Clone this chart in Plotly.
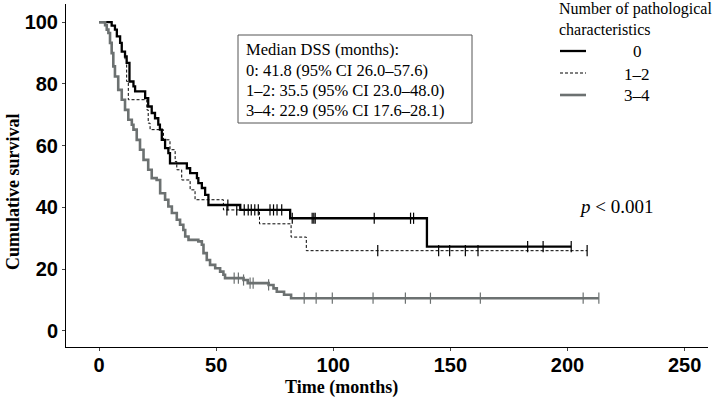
import plotly.graph_objects as go

# ---------------- data ----------------
group_labels = ["0", "1–2", "3–4"]

t_g0 = [0, 5.4, 6.8, 7.6, 9.0, 9.7, 11.1, 11.8, 13.0, 14.7, 15.4, 19.7, 21.0, 22.5, 23.9, 25.3, 26.0,
        26.8, 28.2, 29.6, 30.3, 37.5, 38.9, 41.8, 42.4, 43.9, 45.3, 46.7, 60.3, 81.6, 140.0, 201.6]
s_g0 = [100, 98.9, 97.6, 95.4, 93.3, 90.5, 88.9, 86.8, 80.8, 79.2, 77.6, 75.4, 72.7, 70.6, 68.9, 66.8, 65.2,
        61.9, 59.2, 57.6, 54.3, 52.7, 51.1, 49.5, 47.9, 46.3, 44.1, 40.8, 39.2, 36.5, 27.3, 27.3]
cens_g0 = [55.0, 63.7, 65.0, 66.5, 68.0, 73.0, 74.5, 76.0, 78.0, 82.5, 91.0, 91.7, 92.3, 117.5,
           133.0, 134.3, 183.0, 189.6, 201.6]

t_g1 = [0, 5.4, 6.8, 7.6, 9.0, 9.7, 11.1, 11.8, 12.5, 20.4, 21.0, 21.8, 27.5, 30.3, 32.5, 33.2,
        35.3, 38.9, 41.0, 53.1, 68.5, 82.0, 88.5, 208.4]
s_g1 = [100, 98.9, 97.6, 95.4, 93.3, 90.5, 87.8, 80.8, 74.9, 71.6, 67.3, 65.2, 61.9, 58.7, 54.9, 52.2,
        48.9, 45.7, 42.5, 39.2, 34.7, 30.4, 26.0, 26.0]
cens_g1 = [54.6, 58.8, 62.0, 119.0, 145.0, 149.7, 156.4, 161.8, 208.4]

t_g2 = [0, 2.6, 3.3, 4.0, 4.7, 5.4, 6.1, 6.8, 8.2, 9.7, 11.1, 12.5, 14.0, 14.7, 16.1, 17.5, 19.0, 21.0,
        22.5, 24.6, 26.1, 28.2, 29.6, 31.1, 33.2, 34.6, 36.0, 36.8, 38.2, 42.4, 43.9, 44.6, 46.0, 47.4,
        49.6, 51.7, 53.1, 53.8, 61.7, 63.5, 72.4, 74.5, 75.9, 79.0, 82.0, 213.4]
s_g2 = [100, 99.0, 97.6, 96.5, 93.3, 90.0, 85.7, 82.4, 78.1, 74.9, 71.6, 68.4, 66.8, 65.2, 61.9, 58.7,
        55.4, 52.2, 49.5, 48.9, 44.6, 42.5, 40.3, 38.2, 36.0, 34.4, 32.7, 30.6, 29.5, 29.0, 27.9, 25.2,
        23.0, 21.4, 20.3, 19.2, 18.2, 17.1, 16.5, 15.5, 14.9, 13.8, 12.7, 11.7, 10.6, 10.6]
cens_g2 = [57.7, 59.5, 61.7, 64.5, 65.8, 72.4, 87.6, 92.7, 99.6, 117.0, 130.8, 141.5, 162.8, 206.7, 213.4]

x_ticks = [0, 50, 100, 150, 200, 250]
y_ticks = [0, 20, 40, 60, 80, 100]

median_lines = ["Median DSS (months):",
                "0: 41.8 (95% CI 26.0–57.6)",
                "1–2: 35.5 (95% CI 23.0–48.0)",
                "3–4: 22.9 (95% CI 17.6–28.1)"]

# ---------------- styles ----------------
SERIF = "Liberation Serif"
SANS = "Liberation Sans"
styles = [dict(color="#000000", width=2.3, dash="solid"),
          dict(color="#000000", width=1.0, dash="3px,2px"),
          dict(color="#6c7171", width=2.6, dash="solid")]


def surv_at(ts, ss, t):
    v = ss[0]
    for ti, si in zip(ts, ss):
        if ti <= t:
            v = si
    return v


fig = go.Figure()
series = [(t_g0, s_g0, cens_g0), (t_g1, s_g1, cens_g1), (t_g2, s_g2, cens_g2)]
for (ts, ss, cs), st, lab in zip(series, styles, group_labels):
    fig.add_trace(go.Scatter(x=ts, y=ss, mode="lines", line_shape="hv",
                             line=dict(color=st["color"], width=st["width"], dash=st["dash"]),
                             name=lab, showlegend=False, hoverinfo="skip"))
    fig.add_trace(go.Scatter(x=cs, y=[surv_at(ts, ss, c) for c in cs], mode="markers",
                             marker=dict(symbol="line-ns", size=8,
                                         line=dict(color=st["color"], width=1.2)),
                             showlegend=False, hoverinfo="skip"))

# pixel -> paper helpers (plot area: x 66..708, y 4..347)
L, R, T, B = 66, 708, 4, 347


def px(x):
    return (x - L) / (R - L)


def py(y):
    return (B - y) / (B - T)


ann = []
shapes = []
# median box
shapes.append(dict(type="rect", xref="paper", yref="paper", x0=px(238), x1=px(472), y0=py(123), y1=py(35),
                   line=dict(color="#555555", width=1), fillcolor="white"))
for i, txt in enumerate(median_lines):
    ann.append(dict(text=txt, xref="paper", yref="paper", x=px(244), y=py(50 + 20 * i),
                    xanchor="left", yanchor="middle", showarrow=False,
                    font=dict(family=SERIF, size=16.5, color="black")))

# legend (manual)
ann.append(dict(text="Number of pathological<br>characteristics", xref="paper", yref="paper",
                x=px(557), y=py(19), xanchor="left", yanchor="middle", align="left", showarrow=False,
                font=dict(family=SERIF, size=16, color="black")))
for i, (st, lab) in enumerate(zip(styles, group_labels)):
    yy = 51 + 22 * i
    shapes.append(dict(type="line", xref="paper", yref="paper", x0=px(560), x1=px(586), y0=py(yy), y1=py(yy),
                       line=dict(color=st["color"], width=st["width"], dash=st["dash"])))
    ann.append(dict(text=lab, xref="paper", yref="paper", x=px(637), y=py(yy + 1), xanchor="center",
                    yanchor="middle", showarrow=False, font=dict(family=SERIF, size=17, color="black")))

# p value
ann.append(dict(text="<i>p</i> < 0.001", xref="paper", yref="paper", x=px(577), y=py(206), xanchor="left",
                yanchor="middle", showarrow=False, font=dict(family=SERIF, size=19, color="black")))

# axis titles
ann.append(dict(text="<b>Cumulative survival</b>", xref="paper", yref="paper", x=px(13), y=py(192),
                xanchor="center", yanchor="middle", textangle=-90, showarrow=False,
                font=dict(family=SERIF, size=18, color="black")))
ann.append(dict(text="<b>Time (months)</b>", xref="paper", yref="paper", x=px(341), y=py(387),
                xanchor="center", yanchor="middle", showarrow=False,
                font=dict(family=SERIF, size=18, color="black")))

fig.update_layout(
    width=712, height=410,
    margin=dict(l=L, r=712 - R, t=T, b=410 - B, pad=0),
    paper_bgcolor="white", plot_bgcolor="white",
    showlegend=False,
    annotations=ann, shapes=shapes,
    xaxis=dict(range=[-14.1, 260], tickvals=x_ticks, ticktext=[str(v) for v in x_ticks],
               showgrid=False, zeroline=False, showline=True, linecolor="black", linewidth=1,
               ticks="outside", ticklen=3, tickcolor="#444", tickwidth=1, ticklabelstandoff=-3,
               tickfont=dict(family=SANS, size=20, color="black", weight="bold")),
    yaxis=dict(range=[-5.2, 105.9], tickvals=y_ticks, ticktext=[str(v) for v in y_ticks],
               showgrid=False, zeroline=False, showline=True, linecolor="black", linewidth=1,
               ticks="outside", ticklen=3, tickcolor="#444", tickwidth=1,
               tickfont=dict(family=SANS, size=20, color="black", weight="bold")),
)

fig.write_html("out.html", config={"displayModeBar": False},
               post_script="document.body.style.margin='0px';")
